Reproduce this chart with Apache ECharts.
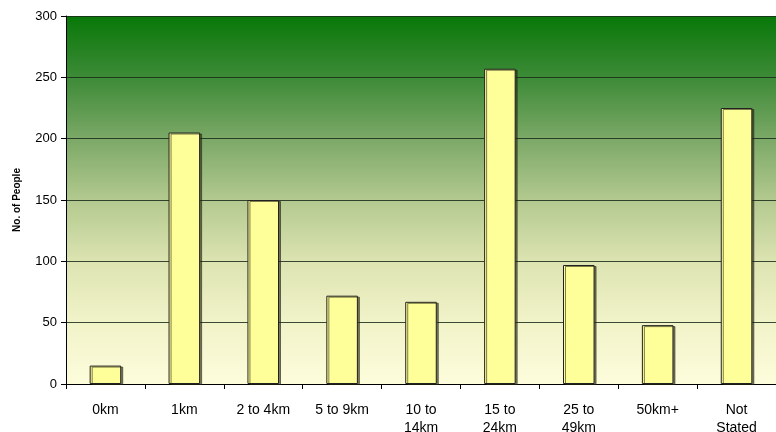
<!DOCTYPE html>
<html><head><meta charset="utf-8">
<script src="https://cdn.jsdelivr.net/npm/echarts@6/dist/echarts.min.js"></script>
<style>html,body{margin:0;padding:0;background:#fff}#c{width:776px;height:432px}</style>
</head><body><div id="c"></div>
<script>
const categories = ['0km','1km','2 to 4km','5 to 9km','10 to\n14km','15 to\n24km','25 to\n49km','50km+','Not\nStated'];
const people = [15, 205, 150, 72, 67, 257, 97, 48, 225];
const yTicks = {min: 0, max: 300, interval: 50};

const chart = echarts.init(document.getElementById('c'));
chart.setOption({
  animation: false,
  grid: {
    left: 66, right: 0, top: 16, bottom: 48,
    outerBoundsMode: 'none', containLabel: false,
    show: true, borderWidth: 0,
    backgroundColor: new echarts.graphic.LinearGradient(0, 0, 0, 1, [
      {offset: 0, color: '#087808'},
      {offset: 0.17, color: '#3e8b38'},
      {offset: 0.33, color: '#7aa866'},
      {offset: 0.5, color: '#b3c98f'},
      {offset: 0.67, color: '#dde4b2'},
      {offset: 0.83, color: '#f1f3c8'},
      {offset: 1, color: '#fdfddc'}
    ])
  },
  xAxis: {
    type: 'category', data: categories,
    axisLine: {lineStyle: {color: '#000', width: 1}},
    axisTick: {show: true, alignWithLabel: false, length: 5, lineStyle: {color: '#000'}},
    axisLabel: {color: '#000', fontFamily: 'Liberation Sans, Arial', fontSize: 14, margin: 17, lineHeight: 18}
  },
  yAxis: {
    type: 'value', min: yTicks.min, max: yTicks.max, interval: yTicks.interval,
    name: 'No. of People', nameLocation: 'middle', nameGap: 44, nameRotate: 90,
    nameTextStyle: {color: '#000', fontFamily: 'Liberation Sans, Arial', fontSize: 10, fontWeight: 'bold'},
    axisLine: {show: true, lineStyle: {color: '#000', width: 1}},
    axisTick: {show: true, length: 5, lineStyle: {color: '#000'}},
    axisLabel: {color: '#000', fontFamily: 'Liberation Sans, Arial', fontSize: 13, margin: 9},
    splitLine: {show: true, lineStyle: {color: '#1a2a1a', width: 1, opacity: 0.85}}
  },
  series: [{
    type: 'bar', data: people, barWidth: '40%',
    itemStyle: {
      color: '#ffff99', borderColor: '#222', borderWidth: 1,
      shadowColor: 'rgba(40,40,20,0.6)', shadowOffsetX: 2, shadowOffsetY: 1, shadowBlur: 0
    }
  }]
});
</script></body></html>
